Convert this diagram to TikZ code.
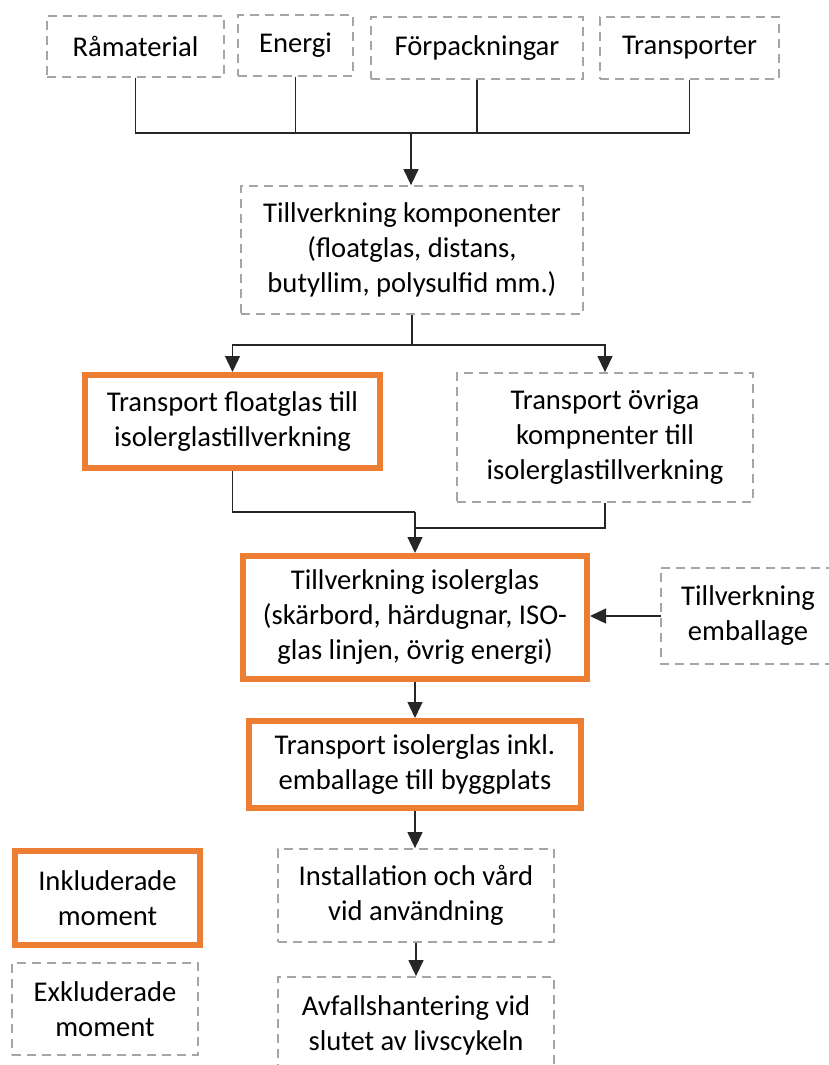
\documentclass[tikz,border=0pt]{standalone}
\usepackage{fontspec}
\setmainfont{Carlito}
\usetikzlibrary{arrows.meta}
\definecolor{dgray}{RGB}{165,165,165}
\definecolor{org}{RGB}{237,125,49}
\begin{document}
\begin{tikzpicture}[x=1pt,y=-1pt,
  box/.style={rectangle, align=center, inner sep=0pt, font=\fontsize{28.6}{35}\selectfont},
  exline/.style={draw=dgray, line width=1.8pt, dash pattern=on 9pt off 6pt},
  ex/.style={box, exline},
  inc/.style={box, draw=org, line width=6pt},
  conn/.style={line width=1.3pt, draw=black!85},
  arr/.style={conn, -{Triangle[length=16pt,width=15pt]}}]
\useasboundingbox (0,0) rectangle (829,1065);
\clip (0,0) rectangle (829,1065);
% top row
\node[ex, minimum width=177pt, minimum height=61pt] (ram) at (135.5,46.5) {Råmaterial};
\node[ex, minimum width=115pt, minimum height=61pt] (ene) at (295.5,45.5) {Energi};
\node[ex, minimum width=212pt, minimum height=62pt] (forp) at (477,48) {Förpackningar};
\node[ex, minimum width=179pt, minimum height=62pt] (tra) at (689.5,48) {Transporter};
% components
\node[ex, minimum width=342pt, minimum height=128pt] (komp) at (412,250) {Tillverkning komponenter\\(floatglas, distans,\\butyllim, polysulfid mm.)};
\node[inc, minimum width=295pt, minimum height=93pt] (tf) at (232.5,421.5) {Transport floatglas till\\isolerglastillverkning};
\node[ex, minimum width=296pt, minimum height=129pt] (tov) at (605,437.5) {Transport övriga\\kompnenter till\\isolerglastillverkning};
\node[inc, minimum width=344pt, minimum height=123pt] (iso) at (415,617.5) {Tillverkning isolerglas\\(skärbord, härdugnar, ISO-\\glas linjen, övrig energi)};
\node[box, minimum width=174pt, minimum height=96pt] (emb) at (748,616) {Tillverkning\\emballage};
\draw[exline] ([xshift=60pt]emb.north east) -- (emb.north west) -- (emb.south west) -- ([xshift=60pt]emb.south east);
\node[inc, minimum width=332pt, minimum height=87pt] (tib) at (415,764.5) {Transport isolerglas inkl.\\emballage till byggplats};
\node[ex, minimum width=276pt, minimum height=93pt] (inst) at (416,895.5) {Installation och vård\\vid användning};
\node[ex, minimum width=276pt, minimum height=96pt] (avf) at (416,1025) {Avfallshantering vid\\slutet av livscykeln};
% legend
\node[inc, minimum width=185pt, minimum height=94pt] (leginc) at (107.5,898) {Inkluderade\\moment};
\node[ex, minimum width=186pt, minimum height=92pt] (legex) at (105,1009) {Exkluderade\\moment};
% connectors
\coordinate (j1) at (411,133);
\draw[conn] (ram.south) -- (ram.south |- j1) -- (tra.south |- j1) -- (tra.south);
\draw[conn] (ene.south) -- (ene.south |- j1);
\draw[conn] (forp.south) -- (forp.south |- j1);
\draw[arr] (j1) -- (j1 |- komp.north);
\coordinate (j2) at (412,345);
\draw[conn] (komp.south) -- (j2);
\draw[arr] (j2) -| (tf.north);
\draw[arr] (j2) -| (tov.north);
\coordinate (j3) at (415,512);
\coordinate (j4) at (415,528);
\draw[conn] (tf.south) |- (j3);
\draw[conn] (tov.south) |- (j4);
\draw[arr] (j3) -- (iso.north);
\draw[arr] (emb.west) -- (emb.west -| iso.east);
\draw[arr] (iso.south) -- (tib.north);
\draw[arr] (tib.south) -- (tib.south |- inst.north);
\draw[arr] (inst.south) -- (avf.north);
\end{tikzpicture}
\end{document}
